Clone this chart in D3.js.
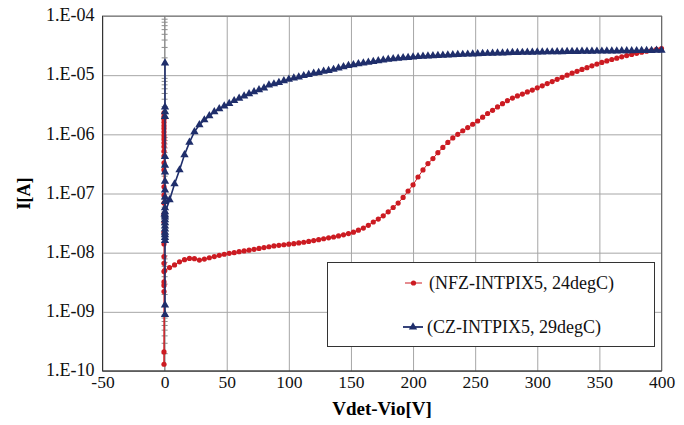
<!DOCTYPE html>
<html>
<head>
<meta charset="utf-8">
<script src="https://cdn.jsdelivr.net/npm/d3@7"></script>
<style>
  html, body { margin: 0; padding: 0; background: #fff; }
  svg { display: block; }
  svg text { font-family: "Liberation Serif", "Times New Roman", Times, serif; }
</style>
</head>
<body>
<div id="chart"></div>
<script>
// I-V curves, two INTPIX5 samples (log scale)

const xTicks = [-50, 0, 50, 100, 150, 200, 250, 300, 350, 400];
const yTicks = [1e-10, 1e-9, 1e-8, 1e-7, 1e-6, 1e-5, 1e-4];
const seriesNames = ["(NFZ-INTPIX5, 24degC)", "(CZ-INTPIX5, 29degC)"];

// sweep voltages (both samples)
const sweepV = [0, 4, 8, 12, 16, 20, 24, 28, 32, 36, 40, 44, 48, 52, 56, 60, 64, 68, 72, 76,
  80, 84, 88, 92, 96, 100, 104, 108, 112, 116, 120, 124, 128, 132, 136, 140, 144, 148, 152, 156,
  160, 164, 168, 172, 176, 180, 184, 188, 192, 196, 200, 204, 208, 212, 216, 220, 224, 228, 232, 236,
  240, 244, 248, 252, 256, 260, 264, 268, 272, 276, 280, 284, 288, 292, 296, 300, 304, 308, 312, 316,
  320, 324, 328, 332, 336, 340, 344, 348, 352, 356, 360, 364, 368, 372, 376, 380, 384, 388, 392, 396, 400];

// NFZ sample
const nfzLowV = [-0.5, -0.5, -0.5, -0.5, -0.5, -0.5, -0.5, -0.5, -0.5, -0.5, -0.5, -0.5, -0.5, -0.5, -0.5,
  -0.5, -0.5, -0.5, -0.5, -0.5, -0.5, -0.5, -0.5, -0.5, -0.5, -0.5, -0.5, -0.5, -0.5, -0.5];
const nfzLowI = [2.3e-6, 2.0e-6, 1.8e-6, 1.6e-6, 1.4e-6, 1.25e-6, 1.1e-6, 9.5e-7, 8.3e-7, 7.2e-7,
  6.2e-7, 5.2e-7, 4.3e-7, 3.3e-7, 2.5e-7, 1.3e-7, 9.4e-8, 6.9e-8, 4.5e-8, 3.3e-8,
  2.2e-8, 1.4e-8, 8.6e-9, 6.6e-9, 4.8e-9, 3.2e-9, 2.8e-9, 2.2e-9, 2.1e-10, 1.3e-10];
const nfzI = [5.0e-9, 5.6e-9, 6.2e-9, 7.0e-9, 7.6e-9, 8.0e-9, 7.9e-9, 7.5e-9, 7.8e-9, 8.2e-9,
  8.6e-9, 9.0e-9, 9.4e-9, 9.7e-9, 1.0e-8, 1.04e-8, 1.07e-8, 1.1e-8, 1.14e-8, 1.18e-8,
  1.22e-8, 1.26e-8, 1.3e-8, 1.33e-8, 1.36e-8, 1.39e-8, 1.42e-8, 1.46e-8, 1.5e-8, 1.55e-8,
  1.6e-8, 1.66e-8, 1.72e-8, 1.78e-8, 1.84e-8, 1.92e-8, 2.0e-8, 2.1e-8, 2.22e-8, 2.4e-8,
  2.6e-8, 2.9e-8, 3.3e-8, 3.7e-8, 4.2e-8, 4.9e-8, 5.8e-8, 6.9e-8, 8.6e-8, 1.1e-7,
  1.4e-7, 1.9e-7, 2.5e-7, 3.2e-7, 3.9e-7, 4.9e-7, 6.0e-7, 7.3e-7, 8.7e-7, 1.0e-6,
  1.15e-6, 1.3e-6, 1.48e-6, 1.68e-6, 1.95e-6, 2.25e-6, 2.55e-6, 2.9e-6, 3.3e-6, 3.7e-6,
  4.1e-6, 4.45e-6, 4.8e-6, 5.2e-6, 5.6e-6, 6.1e-6, 6.6e-6, 7.2e-6, 7.8e-6, 8.5e-6,
  9.2e-6, 1.0e-5, 1.08e-5, 1.16e-5, 1.25e-5, 1.34e-5, 1.44e-5, 1.54e-5, 1.64e-5, 1.74e-5,
  1.84e-5, 1.94e-5, 2.04e-5, 2.14e-5, 2.24e-5, 2.34e-5, 2.44e-5, 2.54e-5, 2.63e-5, 2.72e-5, 2.8e-5];

// CZ sample
const czLowV = [0.3, 0.3, 0.3, 0.3, 0.3, 0.3, 0.3, 0.3, 0.3, 0.3, 0.3, 0.3, 0.3, 0.3, 0.3,
  0.3, 0.3, 0.3, 0.3, 0.3, 0.3, 0.3, 0.3, 0.3, 0.3];
const czLowI = [1.6e-5, 2.9e-6, 2.4e-6, 2.0e-6, 4.2e-7, 3.0e-7, 2.3e-7, 1.6e-7, 1.14e-7, 8.7e-8,
  7.3e-8, 5.7e-8, 4.9e-8, 4.3e-8, 9e-10, 1.3e-9, 1.6e-8, 1.8e-8, 2.0e-8, 2.2e-8,
  2.5e-8, 2.8e-8, 3.2e-8, 3.6e-8, 4.0e-8];
const czI = [4.5e-8, 7.8e-8, 1.45e-7, 2.5e-7, 4.5e-7, 7.3e-7, 1.1e-6, 1.45e-6, 1.75e-6, 2.05e-6,
  2.4e-6, 2.7e-6, 3.0e-6, 3.3e-6, 3.7e-6, 4.05e-6, 4.45e-6, 4.85e-6, 5.25e-6, 5.65e-6,
  6.05e-6, 6.8e-6, 7.1e-6, 7.5e-6, 8.0e-6, 8.5e-6, 8.9e-6, 9.3e-6, 9.8e-6, 1.02e-5,
  1.07e-5, 1.11e-5, 1.16e-5, 1.2e-5, 1.25e-5, 1.32e-5, 1.38e-5, 1.45e-5, 1.5e-5, 1.55e-5,
  1.6e-5, 1.65e-5, 1.7e-5, 1.75e-5, 1.8e-5, 1.85e-5, 1.89e-5, 1.93e-5, 1.96e-5, 1.99e-5,
  2.02e-5, 2.05e-5, 2.08e-5, 2.1e-5, 2.12e-5, 2.14e-5, 2.16e-5, 2.18e-5, 2.2e-5, 2.22e-5,
  2.24e-5, 2.26e-5, 2.28e-5, 2.3e-5, 2.31e-5, 2.33e-5, 2.34e-5, 2.36e-5, 2.37e-5, 2.38e-5,
  2.4e-5, 2.41e-5, 2.42e-5, 2.43e-5, 2.44e-5, 2.45e-5, 2.46e-5, 2.47e-5, 2.47e-5, 2.48e-5,
  2.49e-5, 2.5e-5, 2.5e-5, 2.51e-5, 2.52e-5, 2.52e-5, 2.53e-5, 2.54e-5, 2.54e-5, 2.55e-5,
  2.56e-5, 2.56e-5, 2.57e-5, 2.58e-5, 2.58e-5, 2.59e-5, 2.6e-5, 2.6e-5, 2.61e-5, 2.62e-5, 2.62e-5];

const RED = "#cc1b22";
const BLUE = "#1f2e6b";
const FONT = "'Liberation Serif', 'Times New Roman', Times, serif";

const width = 684, height = 425;
const plot = { left: 102.5, right: 661.5, top: 16, bottom: 371 };

const x = d3.scaleLinear().domain([-50, 400]).range([plot.left, plot.right]);
const y = d3.scaleLog().domain([1e-10, 1e-4]).range([plot.bottom, plot.top]);

const svg = d3.select("#chart").append("svg")
    .attr("width", width)
    .attr("height", height)
    .style("background", "#fff");

// gridlines
svg.append("g")
    .attr("transform", `translate(0,${plot.bottom})`)
    .call(d3.axisBottom(x).tickValues(xTicks).tickSize(-(plot.bottom - plot.top)).tickFormat(""))
    .call(g => g.select(".domain").remove())
    .call(g => g.selectAll("line").attr("stroke", "#a6a6a6"));

svg.append("g")
    .attr("transform", `translate(${plot.left},0)`)
    .call(d3.axisLeft(y).tickValues(yTicks).tickSize(-(plot.right - plot.left)).tickFormat(""))
    .call(g => g.select(".domain").remove())
    .call(g => g.selectAll("line").attr("stroke", "#a6a6a6"));

// vertical axis crossing at V=0, with minor ticks
const minor = [];
for (let e = -10; e < -4; e++) {
    for (let m = 2; m <= 9; m++) minor.push(m * Math.pow(10, e));
}
svg.append("g")
    .attr("transform", `translate(${x(0) + 3},0)`)
    .call(d3.axisLeft(y).tickValues(minor).tickSize(6).tickFormat(""))
    .call(g => g.select(".domain").remove())
    .call(g => g.selectAll("line").attr("stroke", "#8c8c8c"));
svg.append("line")
    .attr("x1", x(0)).attr("x2", x(0))
    .attr("y1", plot.top).attr("y2", plot.bottom)
    .attr("stroke", "#8c8c8c");

// frame
svg.append("rect")
    .attr("x", plot.left).attr("y", plot.top)
    .attr("width", plot.right - plot.left).attr("height", plot.bottom - plot.top)
    .attr("fill", "none").attr("stroke", "#6b6b6b");
svg.append("path")
    .attr("d", `M${plot.left},${plot.top}V${plot.bottom}H${plot.right}`)
    .attr("fill", "none").attr("stroke", "#333");

// tick labels
const fmtY = d => "1.E-" + String(-Math.round(Math.log10(d))).padStart(2, "0");
const fmtX = d => String(d);

svg.append("g")
    .attr("transform", `translate(${plot.left - 8},-1)`)
    .call(d3.axisLeft(y).tickValues(yTicks).tickSize(0).tickPadding(0).tickFormat(fmtY))
    .call(g => g.select(".domain").remove())
    .call(g => g.selectAll("text")
        .style("font-family", FONT).style("font-size", "18px").attr("fill", "#111"));

svg.append("g")
    .attr("transform", `translate(0,${plot.bottom + 5})`)
    .call(d3.axisBottom(x).tickValues(xTicks).tickSize(0).tickPadding(0).tickFormat(fmtX))
    .call(g => g.select(".domain").remove())
    .call(g => g.selectAll("text")
        .style("font-family", FONT).style("font-size", "17.5px").attr("fill", "#111"));

// axis titles
svg.append("text")
    .attr("x", (plot.left + plot.right) / 2).attr("y", 415)
    .attr("text-anchor", "middle")
    .style("font-family", FONT).style("font-weight", "bold").style("font-size", "19px")
    .text("Vdet-Vio[V]");

svg.append("text")
    .attr("transform", `translate(30,${(plot.top + plot.bottom) / 2}) rotate(-90)`)
    .attr("text-anchor", "middle")
    .style("font-family", FONT).style("font-weight", "bold").style("font-size", "18px")
    .text("I[A]");

// series
const nfz = nfzLowV.map((v, i) => [v, nfzLowI[i]]).concat(sweepV.map((v, i) => [v, nfzI[i]]));
const cz = czLowV.map((v, i) => [v, czLowI[i]]).concat(sweepV.map((v, i) => [v, czI[i]]));

const line = d3.line().x(d => x(d[0])).y(d => y(d[1]));
const tri = d3.symbol().type(d3.symbolTriangle).size(30);

svg.append("path").datum(nfz)
    .attr("d", line).attr("fill", "none").attr("stroke", RED).attr("stroke-width", 1);
svg.append("g").selectAll("circle").data(nfz).join("circle")
    .attr("cx", d => x(d[0])).attr("cy", d => y(d[1]))
    .attr("r", 2.6).attr("fill", RED);

svg.append("path").datum(cz)
    .attr("d", line).attr("fill", "none").attr("stroke", BLUE).attr("stroke-width", 1.6);
svg.append("g").selectAll("path").data(cz).join("path")
    .attr("transform", d => `translate(${x(d[0])},${y(d[1])})`)
    .attr("d", tri).attr("fill", BLUE);

// legend
const lg = svg.append("g");
lg.append("rect")
    .attr("x", 327.5).attr("y", 262.5).attr("width", 327).attr("height", 84)
    .attr("fill", "#fff").attr("stroke", "#333");

const rows = [
    { name: seriesNames[0], color: RED, y: 283, x0: 405, x1: 422, tx: 429 },
    { name: seriesNames[1], color: BLUE, y: 327, x0: 403, x1: 423, tx: 427 }
];
rows.forEach((r, i) => {
    lg.append("line")
        .attr("x1", r.x0).attr("x2", r.x1).attr("y1", r.y).attr("y2", r.y)
        .attr("stroke", r.color).attr("stroke-width", i === 0 ? 1 : 1.8);
    if (i === 0) {
        lg.append("circle").attr("cx", (r.x0 + r.x1) / 2).attr("cy", r.y).attr("r", 2.6).attr("fill", r.color);
    } else {
        lg.append("path").attr("transform", `translate(${(r.x0 + r.x1) / 2},${r.y})`)
            .attr("d", tri).attr("fill", r.color);
    }
    lg.append("text")
        .attr("x", r.tx).attr("y", r.y + 6)
        .style("font-family", FONT).style("font-size", "18px").attr("fill", "#111")
        .text(r.name);
});
</script>
</body>
</html>
